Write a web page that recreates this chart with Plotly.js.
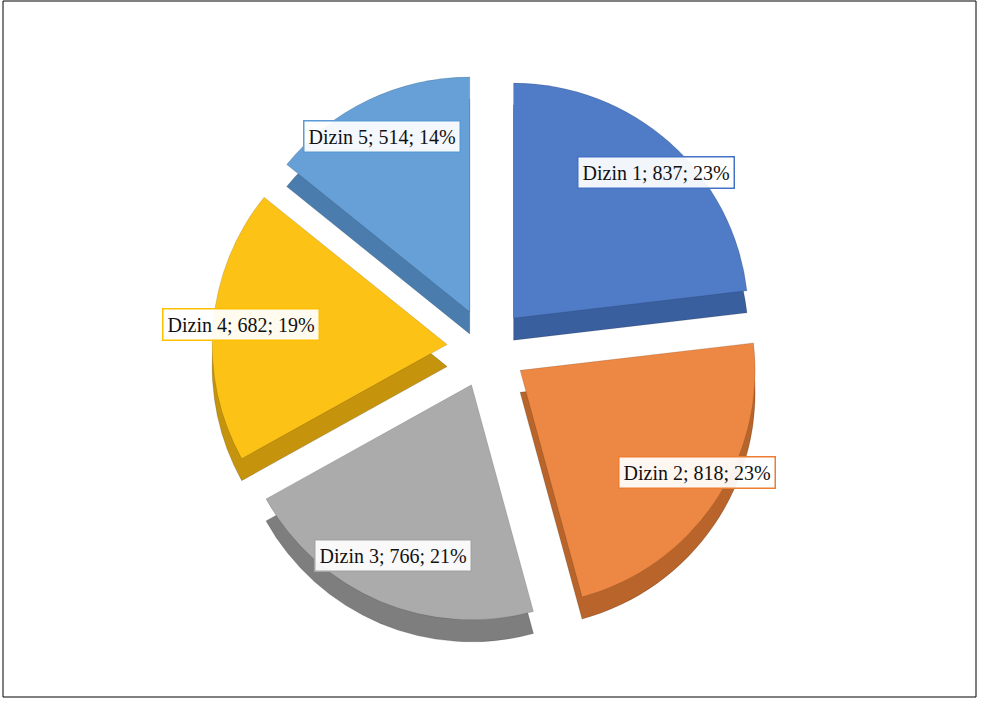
<!DOCTYPE html>
<html>
<head>
<meta charset="utf-8">
<script src="https://cdn.plot.ly/plotly-3.0.1.min.js"></script>
<style>html,body{margin:0;padding:0;background:#fff;}#chart{width:987px;height:704px;}</style>
</head>
<body>
<div id="chart"></div>
<script>
const categories = ['Dizin 1', 'Dizin 2', 'Dizin 3', 'Dizin 4', 'Dizin 5'];
const values = [837, 818, 766, 682, 514];
const topColors = ['#4F7BC7', '#EC8843', '#ABABAB', '#FCC216', '#66A0D6'];
const sideColors = ['#3A5F9E', '#B8642A', '#7E7E7E', '#C5940C', '#4A7DAE'];
const borderColors = ['#4472C4', '#ED7D31', '#A5A5A5', '#FFC000', '#5B9BD5'];

const W = 987, H = 704;
const cx = 487, cy = 348, R = 275, depth = 22;
const pullAmt = 0.17;
const labelCx = 490, labelCy = 344, labelRx = 250, labelRy = 230;
const total = values.reduce((a, b) => a + b, 0);

function dom(cxp, cyp) {
  return {
    x: [(cxp - R) / W, (cxp + R) / W],
    y: [1 - (cyp + R) / H, 1 - (cyp - R) / H]
  };
}

const common = {
  type: 'pie',
  labels: categories,
  values: values,
  sort: false,
  direction: 'clockwise',
  rotation: 0,
  pull: values.map(() => pullAmt),
  textinfo: 'none',
  showlegend: false
};

const sideTrace = Object.assign({}, common, {
  domain: dom(cx, cy + depth),
  marker: { colors: sideColors, line: { color: 'rgba(0,0,0,0.15)', width: 1 } },
  hoverinfo: 'skip'
});
const topTrace = Object.assign({}, common, {
  domain: dom(cx, cy),
  marker: { colors: topColors, line: { color: 'rgba(0,0,0,0.12)', width: 1 } },
  hoverinfo: 'label+value+percent'
});

const annotations = [];
let cum = 0;
values.forEach((v, i) => {
  const mid = (cum + v / 2) / total * 2 * Math.PI;
  cum += v;
  const px = labelCx + labelRx * Math.sin(mid);
  const py = labelCy - labelRy * Math.cos(mid);
  const pct = Math.round(v / total * 100);
  annotations.push({
    xref: 'paper', yref: 'paper',
    x: px / W, y: 1 - py / H,
    xanchor: 'center', yanchor: 'middle',
    showarrow: false,
    text: categories[i] + '; ' + v + '; ' + pct + '%',
    font: { family: 'Liberation Serif, Times New Roman, serif', size: 20, color: '#111' },
    bgcolor: 'rgba(255,255,255,0.93)',
    bordercolor: borderColors[i],
    borderwidth: 1.5,
    borderpad: 4
  });
});

const layout = {
  width: W, height: H,
  margin: { l: 0, r: 0, t: 0, b: 0 },
  paper_bgcolor: '#ffffff',
  plot_bgcolor: '#ffffff',
  annotations: annotations,
  shapes: [{
    type: 'rect', xref: 'paper', yref: 'paper',
    x0: 3 / W, x1: 976 / W, y0: 1 - 697 / H, y1: 1 - 1 / H,
    line: { color: '#000', width: 1 }
  }]
};

Plotly.newPlot('chart', [sideTrace, topTrace], layout, { displayModeBar: false, staticPlot: true });
</script>
</body>
</html>
